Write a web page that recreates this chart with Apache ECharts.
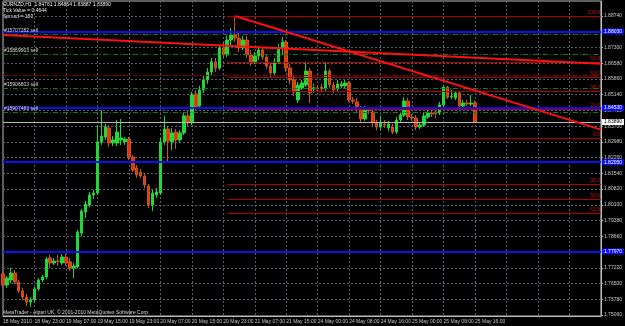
<!DOCTYPE html>
<html><head><meta charset="utf-8">
<script src="https://cdn.jsdelivr.net/npm/echarts@6/dist/echarts.min.js"></script>
<style>html,body{margin:0;padding:0;background:#000;}#c{width:625px;height:326px;}</style>
</head><body><div id="c"></div>
<script>
// ---- data ----
const symbolTitle = 'EURNZD,H1';
const tickValueText = 'Tick Value = 0.4644';
const spreadText = 'Spread = 150';
const copyright = 'MetaTrader - Alpari UK, \u00a9 2001-2010 MetaQuotes Software Corp.';
// trading sessions (day, first hour, last hour) of the H1 bars shown
const sessions = [['18 May',15,23],['19 May',0,23],['20 May',0,23],['21 May',0,22],['24 May',0,23],['25 May',0,16]];
const xTickLabels = ['18 May 2010','18 May 23:00','19 May 07:00','19 May 15:00','19 May 23:00','20 May 07:00','20 May 15:00','20 May 23:00','21 May 07:00','21 May 15:00','24 May 00:00','24 May 08:00','24 May 16:00','25 May 00:00','25 May 08:00','25 May 16:00'];
const futureSlots = 32;
const yTicks = [1.7506,1.7578,1.7650,1.7722,1.7794,1.7866,1.7938,1.8010,1.8082,1.8154,1.8226,1.8298,1.8370,1.8442,1.8514,1.8586,1.8658,1.8730,1.8802,1.8874];

const openP = [1.7694,1.7643,1.7666,1.7698,1.7657,1.7616,1.7588,1.7565,1.7575,1.7625,
1.7666,1.7680,1.7767,1.7744,1.7753,1.7744,1.7771,1.7749,1.7721,1.7726,
1.7881,1.7977,1.8009,1.8055,1.8064,1.8298,1.8320,1.8362,1.8293,1.8293,
1.8307,1.8298,1.8311,1.8229,1.8179,1.8160,1.8142,1.8096,1.8009,1.8055,
1.8064,1.8298,1.8357,1.8298,1.8343,1.8307,1.8339,1.8417,1.8385,1.8517,
1.8462,1.8535,1.8581,1.8618,1.8664,1.8636,1.8728,1.8696,1.8764,1.8787,
1.8773,1.8728,1.8764,1.8696,1.8664,1.8691,1.8718,1.8686,1.8645,1.8613,
1.8664,1.8728,1.8755,1.8636,1.8581,1.8490,1.8545,1.8558,1.8622,1.8540,
1.8545,1.8549,1.8540,1.8622,1.8558,1.8540,1.8554,1.8554,1.8568,1.8490,
1.8481,1.8449,1.8403,1.8444,1.8435,1.8385,1.8366,1.8380,1.8362,1.8366,
1.8343,1.8398,1.8421,1.8485,1.8412,1.8407,1.8366,1.8375,1.8412,1.8430,
1.8435,1.8430,1.8467,1.8549,1.8503,1.8499,1.8522,1.8462,1.8476,1.8471,
1.84761];
const closeP = [1.7643,1.7675,1.7698,1.7657,1.7616,1.7588,1.7565,1.7575,1.7625,1.7666,
1.7680,1.7762,1.7744,1.7753,1.7751,1.7771,1.7744,1.7721,1.7730,1.7886,
1.7982,1.8014,1.8055,1.8064,1.8298,1.8325,1.8366,1.8293,1.8307,1.8343,
1.8316,1.8311,1.8229,1.8169,1.8147,1.8142,1.8101,1.8009,1.8064,1.8069,
1.8298,1.8357,1.8302,1.8339,1.8307,1.8339,1.8417,1.8385,1.8513,1.8458,
1.8535,1.8581,1.8618,1.8664,1.8636,1.8728,1.8696,1.8764,1.8787,1.8773,
1.8728,1.8764,1.8696,1.8664,1.8691,1.8718,1.8686,1.8645,1.8613,1.8664,
1.8728,1.8755,1.8636,1.8581,1.8526,1.8558,1.8568,1.8622,1.8522,1.8545,
1.8540,1.8540,1.8622,1.8558,1.8535,1.8563,1.8563,1.8568,1.8490,1.8485,
1.8453,1.8403,1.8444,1.8442,1.8385,1.8366,1.8385,1.8375,1.8380,1.8343,
1.8398,1.8421,1.8485,1.8412,1.8407,1.8366,1.8375,1.8417,1.8430,1.8426,
1.8426,1.8467,1.8549,1.8503,1.8506,1.8522,1.8462,1.8476,1.8471,1.8476,
1.83890];
const lowP = [1.7634,1.7630,1.7652,1.7648,1.7607,1.7575,1.7547,1.7543,1.7561,1.7616,
1.7657,1.7671,1.7721,1.7735,1.7730,1.7735,1.7730,1.7707,1.7675,1.7721,
1.7867,1.7950,1.8000,1.8037,1.8055,1.8284,1.8307,1.8275,1.8279,1.8279,
1.8284,1.8284,1.8215,1.8160,1.8133,1.8133,1.8087,1.7996,1.7982,1.8041,
1.8055,1.8284,1.8206,1.8261,1.8266,1.8293,1.8330,1.8371,1.8375,1.8444,
1.8453,1.8522,1.8563,1.8604,1.8618,1.8627,1.8682,1.8686,1.8741,1.8755,
1.8709,1.8718,1.8682,1.8645,1.8654,1.8673,1.8673,1.8632,1.8590,1.8604,
1.8654,1.8696,1.8618,1.8563,1.8508,1.8476,1.8535,1.8549,1.8476,1.8522,
1.8526,1.8526,1.8531,1.8545,1.8522,1.8526,1.8545,1.8545,1.8481,1.8471,
1.8435,1.8389,1.8394,1.8426,1.8371,1.8352,1.8352,1.8362,1.8348,1.8334,
1.8334,1.8389,1.8412,1.8398,1.8394,1.8352,1.8357,1.8366,1.8403,1.8412,
1.8407,1.8421,1.8453,1.8494,1.8494,1.8490,1.8453,1.8453,1.8462,1.8462,
1.83887];
const highP = [1.7707,1.7685,1.7721,1.7712,1.7666,1.7630,1.7602,1.7588,1.7634,1.7675,
1.7689,1.7771,1.7781,1.7767,1.7781,1.7785,1.7785,1.7767,1.7744,1.7895,
1.7991,1.8028,1.8069,1.8078,1.8375,1.8444,1.8380,1.8375,1.8325,1.8398,
1.8403,1.8320,1.8320,1.8238,1.8192,1.8174,1.8156,1.8105,1.8078,1.8087,
1.8316,1.8417,1.8371,1.8362,1.8357,1.8352,1.8430,1.8444,1.8526,1.8535,
1.8554,1.8600,1.8636,1.8682,1.8682,1.8741,1.8755,1.8783,1.8819,1.8874,
1.8801,1.8783,1.8783,1.8718,1.8709,1.8737,1.8732,1.8700,1.8664,1.8682,
1.8746,1.8778,1.8764,1.8654,1.8600,1.8572,1.8581,1.8664,1.8636,1.8563,
1.8558,1.8563,1.8664,1.8632,1.8572,1.8581,1.8577,1.8581,1.8577,1.8503,
1.8499,1.8462,1.8462,1.8458,1.8449,1.8398,1.8417,1.8398,1.8394,1.8380,
1.8412,1.8435,1.8503,1.8499,1.8426,1.8421,1.8389,1.8430,1.8444,1.8444,
1.8444,1.8481,1.8558,1.8554,1.8535,1.8531,1.8531,1.8490,1.8490,1.8513,
1.84864];

// chart objects
const blueLevels = [1.8803, 1.8453, 1.8205, 1.7797];
const orderTickets = ['#15707282 sell','#15869903 sell','#15906803 sell','#15907483 sell'];
const orderPrices = [1.8792, 1.8700, 1.8545, 1.8435];
const stopLevel = 1.8604;
const fibNames = ['100.0','61.8','50.0','38.2','23.6','0.0','38.2','50.0','61.8'];
const fibPrices = [1.8874,1.8661,1.8595,1.8529,1.8448,1.8316,1.8103,1.8037,1.7971];
const fibStartBar = 57, fibEndBar = 95;
const trend1 = [[0,1.8787],[152,1.8655]];
const trend2 = [[59,1.8874],[152,1.8354]];

// ---- build ----
const categories = [];
sessions.forEach(([d,h0,h1]) => { for (let h=h0; h<=h1; h++) categories.push(d+' '+String(h).padStart(2,'0')+':00'); });
const nReal = categories.length;
for (let k=1;k<=futureSlots;k++) categories.push('+'+k);
const nAll = categories.length;
const lastIdx = nAll-1;
const candles = openP.map((o,i)=>[o, closeP[i], lowP[i], highP[i]]);
const lastClose = closeP[closeP.length-1];

const FONT = 'Liberation Sans';
const ml = [];
fibPrices.forEach((p,i)=>{
  ml.push([{coord:[fibStartBar,p], lineStyle:{color:'#b00000',width:1,type:'solid'},
    label:{show:true,position:'insideEndTop',formatter:fibNames[i],color:'#d01010',fontSize:5,fontFamily:FONT,distance:1}},
    {coord:[lastIdx,p]}]);
});
ml.push([{coord:[fibStartBar,fibPrices[0]], lineStyle:{color:'#a00000',width:1,type:[1,2]}, label:{show:false}},
  {coord:[fibEndBar,fibPrices[5]]}]);
ml.push({yAxis:stopLevel, lineStyle:{color:'#900000',width:1,type:[5,2,1,2]}, label:{show:false}});
orderPrices.forEach((p,i)=>{
  ml.push({yAxis:p, lineStyle:{color:'#1a7a1a',width:1,type:[5,2,1,2]},
    label:{show:true,position:'insideStartTop',formatter:orderTickets[i],color:'#d8d8d8',fontSize:5,fontFamily:FONT,distance:1}});
});
ml.push({yAxis:lastClose, lineStyle:{color:'#b8b8b8',width:1,type:'solid'},
  label:{show:true,position:'end',formatter:lastClose.toFixed(5),color:'#000',backgroundColor:'#ffffff',padding:[1,2,0,2],fontSize:5,fontFamily:FONT,distance:1}});
blueLevels.forEach(p=>{
  ml.push({yAxis:p, lineStyle:{color:'#0a10f0',width:2,type:'solid'},
    label:{show:true,position:'end',formatter:p.toFixed(5),color:'#fff',backgroundColor:'#0a10f0',padding:[1,2,0,2],fontSize:5,fontFamily:FONT,distance:1}});
});
[trend1,trend2].forEach(t=>{
  ml.push([{coord:t[0], lineStyle:{color:'#ff1010',width:2,type:'solid'}, label:{show:false}},{coord:t[1]}]);
});

const chart = echarts.init(document.getElementById('c'), null, {renderer:'canvas'});
chart.setOption({
  animation:false,
  backgroundColor:'#000000',
  textStyle:{fontFamily:FONT},
  grid:{left:2,right:19,top:1,bottom:10,show:true,borderColor:'#bcbcbc',borderWidth:1,containLabel:false},
  xAxis:{type:'category',data:categories,boundaryGap:false,
    axisLine:{show:true,lineStyle:{color:'#bcbcbc'}},
    axisTick:{show:false},
    axisLabel:{show:true,interval:(i)=>i%8===0 && i<nReal,
      formatter:(v,i)=> (i%8===0 && i/8 < xTickLabels.length) ? xTickLabels[i/8] : '',
      color:'#c8c8c8',fontSize:5,fontFamily:FONT,align:'left',margin:3},
    splitLine:{show:true,interval:(i)=>i%8===0,lineStyle:{color:'#56606a',width:1,type:[2,2]}}},
  yAxis:{type:'value',position:'right',min:1.75014,max:1.89426,scale:true,
    axisLine:{show:true,lineStyle:{color:'#bcbcbc'}},
    axisTick:{show:true,length:2,customValues:yTicks,lineStyle:{color:'#bcbcbc'}},
    axisLabel:{show:true,customValues:yTicks,formatter:v=>v.toFixed(5),color:'#c8c8c8',fontSize:5,fontFamily:FONT,margin:3},
    splitLine:{show:true,lineStyle:{color:'#56606a',width:1,type:[2,2]}}},
  series:[{type:'candlestick',data:candles,barWidth:3,
    itemStyle:{color:'#22d838',color0:'#e8300c',borderColor:'#22d838',borderColor0:'#c85a18',borderWidth:1},
    markLine:{silent:true,symbol:['none','none'],animation:false,precision:5,data:ml}}],
  graphic:[
    {type:'text',left:3,top:2,style:{text:symbolTitle+'  '+openP[nReal-1].toFixed(5)+' '+highP[nReal-1].toFixed(5)+' '+lowP[nReal-1].toFixed(5)+' '+closeP[nReal-1].toFixed(5),fill:'#e8e8e8',font:'5px '+FONT}},
    {type:'text',left:3,top:8,style:{text:tickValueText,fill:'#e8e8e8',font:'5px '+FONT}},
    {type:'text',left:3,top:14,style:{text:spreadText,fill:'#e8e8e8',font:'5px '+FONT}},
    {type:'text',left:3,top:310,style:{text:copyright,fill:'#d8d8d8',font:'5px '+FONT}}
  ]
});
</script></body></html>
